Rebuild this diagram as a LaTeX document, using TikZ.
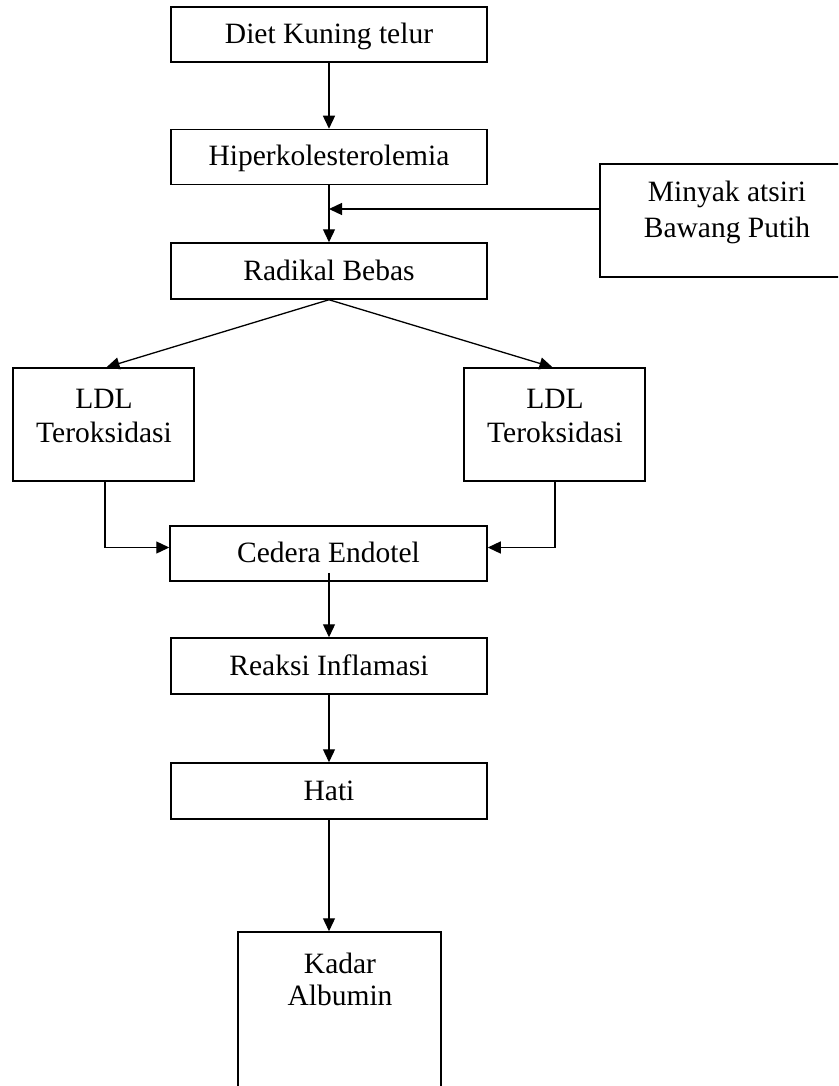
\documentclass[tikz,border=0pt]{standalone}
\usepackage{fontspec}
\setmainfont{Liberation Serif}
\usetikzlibrary{arrows.meta,calc}
\begin{document}
\begin{tikzpicture}[x=1pt,y=-1pt,
  every node/.style={font=\fontsize{29.5}{34}\selectfont},
  box/.style={draw,line width=1.5pt,rectangle,inner sep=0pt},
  wide/.style={box,minimum width=316pt,minimum height=55pt,text height=18pt,text depth=0pt},
  txt/.style={align=center,inner sep=0pt},
  arr/.style={line width=1.3pt,-{Triangle[length=13pt,width=12pt]}}]
\useasboundingbox (0,0) rectangle (838,1086);
\clip (0,0) rectangle (838,1086);
\node[wide] (diet) at (329,34.5) {Diet Kuning telur};
\node[wide] (hiper) at (329,157) {Hiperkolesterolemia};
\node[wide,minimum height=56pt] (radikal) at (329,271) {Radikal Bebas};
\node[box,minimum width=254pt,minimum height=113pt] (minyak) at (727,220.5) {};
\node[txt,font=\fontsize{29.5}{36}\selectfont] (minyaklbl) at (727,212) {Minyak atsiri\\Bawang Putih};
\node[box,minimum width=181pt,minimum height=113pt] (ldlL) at (103.5,424.5) {};
\node[txt] (ldlLlbl) at (104,416) {LDL\\Teroksidasi};
\node[box,minimum width=181pt,minimum height=113pt] (ldlR) at (554.5,424.5) {};
\node[txt] (ldlRlbl) at (555,416) {LDL\\Teroksidasi};
\node[wide,minimum width=317pt] (cedera) at (328.5,553.5) {Cedera Endotel};
\node[wide,minimum height=56pt] (reaksi) at (329,666) {Reaksi Inflamasi};
\node[wide,minimum height=56pt] (hati) at (329,791) {Hati};
\node[box,minimum width=203pt,minimum height=200pt] (kadar) at (339.5,1032) {};
\node[txt,font=\fontsize{29.5}{32}\selectfont] (kadarlbl) at (340,979) {Kadar\\Albumin};
\coordinate (mj) at (329,209);
\draw[arr] (diet.south) -- (hiper.north);
\draw[arr] (hiper.south) -- (radikal.north);
\draw[arr] (minyak.west |- mj) -- (mj);
\draw[arr] (radikal.south) -- ($(ldlL.north)+(3,0)$);
\draw[arr] (radikal.south) -- ($(ldlR.north)+(-2,0)$);
\draw[arr] ($(ldlL.south)+(1.5,0)$) |- ($(cedera.west)+(0,-6)$);
\draw[arr] ($(ldlR.south)+(0.5,0)$) |- ($(cedera.east)+(0,-6)$);
\draw[arr] ($(cedera.south)+(0.5,-9)$) -- (reaksi.north);
\draw[arr] (reaksi.south) -- (hati.north);
\draw[arr] (hati.south) -- (hati.south |- kadar.north);
\end{tikzpicture}
\end{document}
